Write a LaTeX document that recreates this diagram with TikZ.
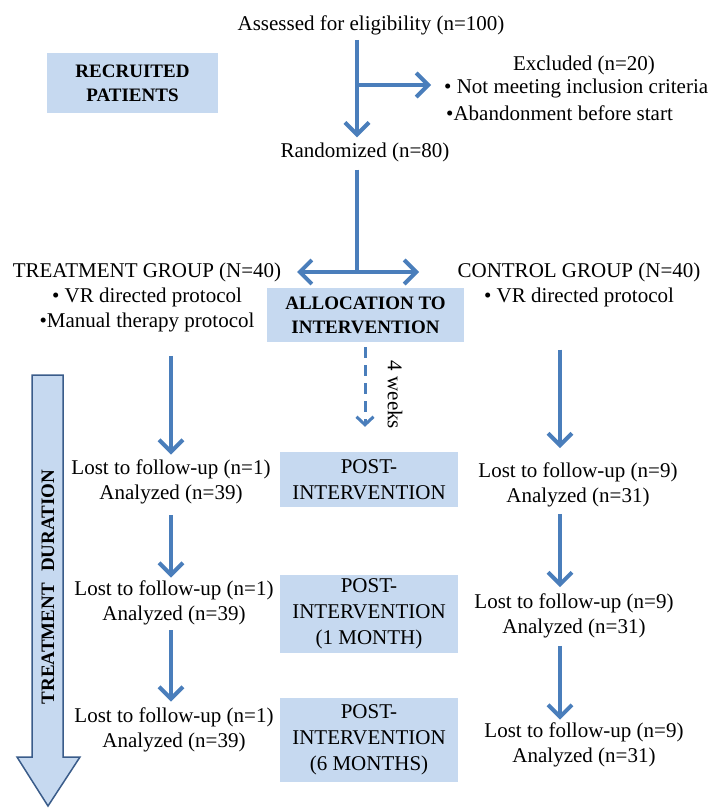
\documentclass[tikz,border=0pt]{standalone}
\usepackage{fontspec}
\setmainfont{Liberation Serif}
\usepackage{tikz}
\usetikzlibrary{arrows.meta}

\definecolor{lineblue}{RGB}{74,126,187}
\definecolor{boxblue}{RGB}{198,217,240}
\definecolor{edgeblue}{RGB}{58,92,138}

\begin{document}
\begin{tikzpicture}[
    x=1pt, y=-1pt,
    txt/.style={align=center, inner sep=0pt, font=\fontsize{21}{25}\selectfont},
    box/.style={fill=boxblue, align=center, inner sep=0pt, minimum width=178pt, font=\fontsize{21}{26}\selectfont},
    hdr/.style={fill=boxblue, align=center, inner sep=0pt, font=\bfseries\fontsize{19}{24}\selectfont},
    arrow/.style={-{Straight Barb[length=12pt,width=24pt]}, line width=4pt, draw=lineblue},
    dasharrow/.style={-{Straight Barb[length=8pt,width=17pt]}, line width=3pt, draw=lineblue, dash pattern=on 11pt off 7pt},
    stem/.style={line width=4pt, draw=lineblue}
]
    \useasboundingbox (0,0) rectangle (709,810);

    % time axis on the left
    \draw[edgeblue, fill=boxblue, line width=1.5pt] (32,375) -- (63,375) -- (63,757) -- (80,757) -- (48,806) -- (17,757) -- (32,757) -- cycle;
    \node[rotate=90, inner sep=0pt, font=\bfseries\fontsize{19}{24}\selectfont] (dur) at (48,587) {TREATMENT\hspace{0.6em}DURATION};

    \node[txt] (assess) at (371,25) {Assessed for eligibility (n=100)};
    \node[hdr, minimum width=171pt, minimum height=60pt] (recruit) at (132.5,83) {RECRUITED\\PATIENTS};
    \node[txt] (excl) at (584,65) {Excluded (n=20)};
    \node[txt, anchor=west] (exclA) at (444,88) {\textbullet\ Not meeting inclusion criteria};
    \node[txt, anchor=west] (exclB) at (446,113) {\textbullet Abandonment before start};
    \node[txt] (rand) at (365,152) {Randomized (n=80)};

    \node[txt] (treat) at (147,297) {TREATMENT GROUP (N=40)\\\textbullet\ VR directed protocol\\\textbullet Manual therapy protocol};
    \node[txt] (control) at (579,284.5) {CONTROL GROUP (N=40)\\\textbullet\ VR directed protocol};
    \node[hdr, minimum width=197pt, minimum height=54pt] (alloc) at (365.5,315) {ALLOCATION TO\\INTERVENTION};

    \node[box, minimum height=55pt] (post1) at (369,479.5) {POST-\\INTERVENTION};
    \node[box, minimum height=78pt] (post2) at (369,614) {POST-\\INTERVENTION\\(1 MONTH)};
    \node[box, minimum height=84pt] (post3) at (369,740) {POST-\\INTERVENTION\\(6 MONTHS)};

    \node[txt] (lost1) at (171,482) {Lost to follow-up (n=1)\\Analyzed (n=39)};
    \node[txt] (lost2) at (174,603) {Lost to follow-up (n=1)\\Analyzed (n=39)};
    \node[txt] (lost3) at (174,730) {Lost to follow-up (n=1)\\Analyzed (n=39)};
    \node[txt] (res1) at (578,484.5) {Lost to follow-up (n=9)\\Analyzed (n=31)};
    \node[txt] (res2) at (574,615.5) {Lost to follow-up (n=9)\\Analyzed (n=31)};
    \node[txt] (res3) at (584,745) {Lost to follow-up (n=9)\\Analyzed (n=31)};

    \node[rotate=-90, inner sep=0pt, font=\fontsize{21}{25}\selectfont] (weeks) at (395,395) {4 weeks};

    \coordinate (top) at (357,85);
    \coordinate (split) at (357,272);
    \coordinate (left) at (297,272);
    \coordinate (right) at (419,272);
    \coordinate (colM) at (365,0);
    \coordinate (colR) at (560,0);

    \draw[arrow] ([yshift=-5pt]assess.south -| top) -- ([yshift=5pt]rand.north -| top);
    \draw[arrow] (top) -- ([xshift=-13pt]top -| exclA.west);
    \draw[stem] ([yshift=-8pt]rand.south -| split) -- (split);
    \draw[arrow] (split) -- (left);
    \draw[arrow] (split) -- (right);

    \draw[arrow] ([yshift=-24pt]treat.south -| lost1) -- ([yshift=5pt]lost1.north);
    \draw[arrow] ([yshift=-11pt]lost1.south) -- ([yshift=3pt]lost1.south |- lost2.north);
    \draw[arrow] ([yshift=-5pt]lost2.south -| lost1) -- ([yshift=6pt]lost1 |- lost3.north);

    \draw[dasharrow] ([yshift=-5pt]alloc.south -| colM) -- ([yshift=25pt]post1.north -| colM);

    \draw[arrow] ([yshift=-43pt]control.south -| colR) -- ([yshift=14pt]res1.north -| colR);
    \draw[arrow] ([yshift=-7pt]res1.south -| colR) -- ([yshift=6pt]res2.north -| colR);
    \draw[arrow] ([yshift=-8pt]res2.south -| colR) -- ([yshift=3pt]res3.north -| colR);
\end{tikzpicture}
\end{document}
